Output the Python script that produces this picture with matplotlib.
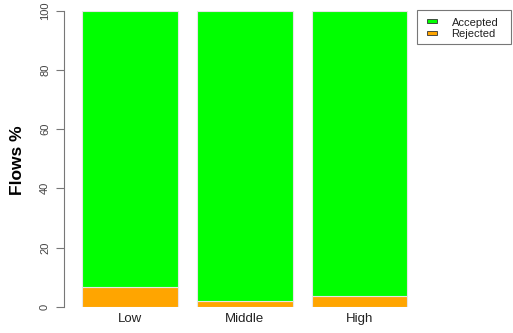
import matplotlib
matplotlib.use("Agg")
import matplotlib.pyplot as plt
from matplotlib.patches import Rectangle

plt.rcParams["font.family"] = ["Liberation Sans", "DejaVu Sans"]

categories = ["Low", "Middle", "High"]
rejected = [6.6, 1.9, 3.6]
accepted = [100 - r for r in rejected]
series_names = ["Accepted", "Rejected"]
colors = {"Accepted": "#00ff00", "Rejected": "#ffa500"}

W, H = 513, 333
fig = plt.figure(figsize=(W / 100, H / 100), dpi=100)
ax = fig.add_axes([64 / W, 26.3 / H, 353 / W, 296 / H])

centers = [0.7 + 1.2 * i for i in range(len(categories))]
ax.bar(centers, rejected, width=1.0, color=colors["Rejected"],
       edgecolor="#e6e6e6", linewidth=0.8)
ax.bar(centers, accepted, bottom=rejected, width=1.0, color=colors["Accepted"],
       edgecolor="#e6e6e6", linewidth=0.8)

ax.set_xlim(0.012, 3.7)
ax.set_ylim(0, 100)
for s in ["top", "right", "bottom"]:
    ax.spines[s].set_visible(False)
ax.spines["left"].set_color("#777777")
ax.spines["left"].set_linewidth(0.8)
ax.spines["left"].set_bounds(0, 100)

ax.set_yticks([0, 20, 40, 60, 80, 100])
ax.set_yticklabels(["0", "20", "40", "60", "80", "100"], rotation=90,
                   va="center", fontsize=8, color="#444444")
ax.tick_params(axis="y", length=6, width=0.8, color="#777777", pad=4)

ax.set_xticks(centers)
ax.set_xticklabels(categories, fontsize=9.5, color="#222222")
ax.tick_params(axis="x", length=0, pad=4.5)

fig.text(17 / W, 1 - 160 / H, "Flows %", rotation=90, fontsize=12.5,
         fontweight="bold", ha="center", va="center")

# Legend box drawn in figure pixels
def px(x, y):
    return x / W, 1 - y / H

box_x0, box_y0, box_x1, box_y1 = 416.5, 9.5, 511, 44
fig.patches.append(Rectangle(px(box_x0, box_y1), (box_x1 - box_x0) / W,
                             (box_y1 - box_y0) / H, transform=fig.transFigure,
                             facecolor="white", edgecolor="#777777",
                             linewidth=0.8, clip_on=False))
for i, name in enumerate(series_names):
    cy = 21.3 + 11.4 * i
    fig.patches.append(Rectangle(px(427, cy + 2), 9.5 / W, 4 / H,
                                 transform=fig.transFigure,
                                 facecolor=colors[name], edgecolor="#333333",
                                 linewidth=0.6))
    fig.text(*px(451.5, cy + 0.5), name, fontsize=8, va="center_baseline",
             ha="left", color="#222222")

fig.savefig("out.png", dpi=100)
